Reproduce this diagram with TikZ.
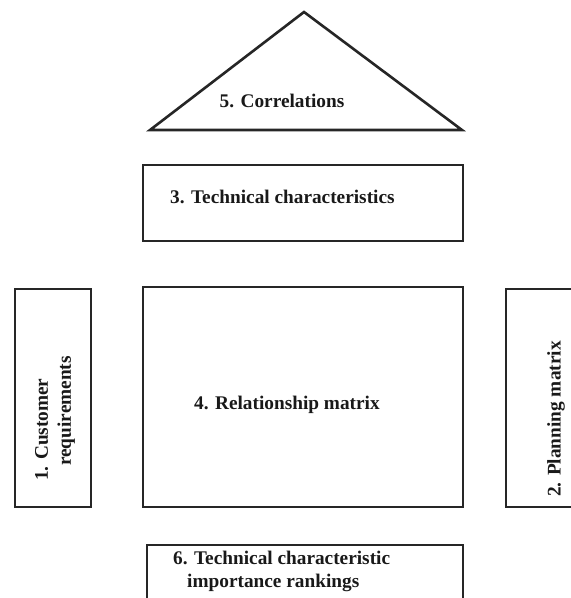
\documentclass[tikz,border=0pt]{standalone}
\usepackage{fontspec}
\setmainfont{Liberation Serif}
\usepackage{tikz}
\usetikzlibrary{positioning}

\begin{document}
\begin{tikzpicture}[
      x=1pt, y=-1pt,
      block/.style={rectangle, draw=black!85, line width=2.6pt, fill=white,
                    inner sep=0pt},
      roof/.style={draw=black!85, line width=2.6pt, line join=miter},
      caption/.style={font=\fontsize{19.3}{23}\selectfont\bfseries,
                      text=black!90, inner sep=0pt, align=left},
    ]
      \clip (0,0) rectangle (571,598);
      \fill[white] (0,0) rectangle (571,598);
      %% Roof (correlations)
      \coordinate (apex) at (304, 12);
      \coordinate (eaveL) at (150,130);
      \coordinate (eaveR) at (462,130);
      \draw[roof] (eaveL) -- (apex) -- (eaveR) -- cycle;
      \node[caption] (corr) at (282,101) {5. Correlations};
      %% Technical characteristics
      \node[block, minimum width=320pt, minimum height=76pt] (tech)
            at (303,203) {};
      \node[caption, anchor=west] (techtxt) at (170,197)
            {3. Technical characteristics};
      %% Relationship matrix
      \node[block, minimum width=320pt, minimum height=220pt] (relmat)
            at (303,397) {};
      \node[caption, anchor=west] (reltxt) at (194,405)
            {4. Relationship matrix};
      %% Customer requirements (left wall)
      \node[block, minimum width=76pt, minimum height=218pt] (cust)
            at (53,398) {};
      \node[caption, rotate=90, anchor=north west] (custtxt) at (35,481)
            {1. Customer\\\hspace{15pt}requirements};
      %% Planning matrix (right wall)
      \node[block, minimum width=120pt, minimum height=218pt] (plan)
            at (566,398) {};
      \node[caption, rotate=90, anchor=west] (plantxt) at (556,497)
            {2. Planning matrix};
      %% Importance rankings (basement)
      \node[block, minimum width=316pt, minimum height=100pt] (rank)
            at (305,595) {};
      \node[caption, anchor=north west] (ranktxt) at (173,551)
            {6. Technical characteristic\\\hspace{14pt}importance rankings};
    \end{tikzpicture}
\end{document}
